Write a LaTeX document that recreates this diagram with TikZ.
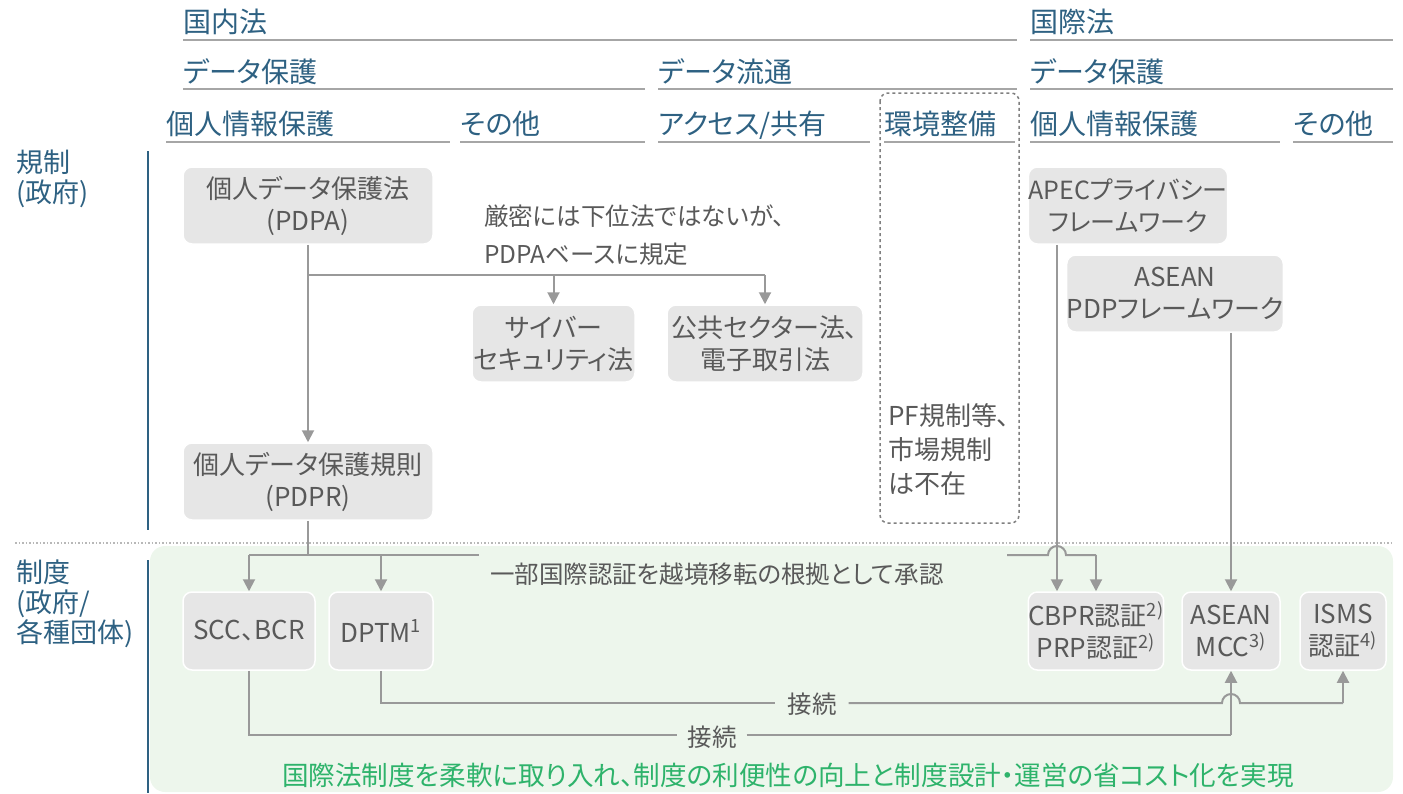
\documentclass[tikz,border=0pt]{standalone}
\usepackage{fontspec}
\setmainfont{Noto Sans CJK JP}[RawFeature=+palt]
\usetikzlibrary{arrows.meta}
\definecolor{hdr}{HTML}{2E6182}
\definecolor{ulgray}{HTML}{A6A6A6}
\definecolor{boxgray}{HTML}{E6E6E6}
\definecolor{txtgray}{HTML}{595959}
\definecolor{lgray}{HTML}{999999}
\definecolor{panel}{HTML}{EDF6EC}
\definecolor{gtext}{HTML}{2EB36B}
\definecolor{dgray}{HTML}{808080}
\tikzset{
  hdrtext/.style={text=hdr, font=\fontsize{28}{30}\selectfont, anchor=base west, inner sep=0pt},
  uline/.style={draw=ulgray, line width=2pt},
  boxnode/.style={fill=boxgray, draw=white, line width=1.5pt, rounded corners=9pt, text=txtgray, align=center, inner sep=0pt, font=\fontsize{26}{32}\selectfont, minimum height=77pt},
  conn/.style={draw=lgray, line width=2pt},
  arr/.style={conn, -{Triangle[width=12pt,length=12pt]}},
  lbl/.style={text=txtgray, font=\fontsize{24.5}{30}\selectfont, inner sep=0pt},
  sidelbl/.style={text=hdr, font=\fontsize{27}{30}\selectfont, align=left, anchor=north west, inner sep=0pt},
}
\begin{document}
\begin{tikzpicture}[x=1pt,y=-1pt]
\useasboundingbox (0,0) rectangle (1403,793);
% green panel
\fill[panel, rounded corners=15pt] (150,546) rectangle (1393,792);
% separator
\draw[draw=ulgray!80, line width=1.5pt, dotted] (15,543) -- (1393,543);
% side lines
\draw[draw=hdr, line width=2.5pt] (148,151) -- (148,530);
\draw[draw=hdr, line width=2.5pt] (148,560) -- (148,793);
\node[sidelbl] (kisei) at (16,150) {規制\\(政府)};
\node[sidelbl] (seido) at (16,560) {制度\\(政府/\\各種団体)};
% headers
\node[hdrtext] (kokunai) at (183,32) {国内法};
\draw[uline] (183,40) -- (1017,40);
\node[hdrtext] (kokusai) at (1030,32) {国際法};
\draw[uline] (1030,40) -- (1393,40);
\node[hdrtext] (dpa) at (183,82) {データ保護};
\draw[uline] (183,89) -- (645,89);
\node[hdrtext] (dr) at (658,82) {データ流通};
\draw[uline] (658,89) -- (1017,89);
\node[hdrtext] (dpb) at (1030,82) {データ保護};
\draw[uline] (1030,89) -- (1393,89);
\node[hdrtext] (kja) at (166,134) {個人情報保護};
\draw[uline] (166,142) -- (450,142);
\node[hdrtext] (sta) at (460,134) {その他};
\draw[uline] (460,142) -- (645,142);
\node[hdrtext] (acc) at (658,134) {アクセス/共有};
\draw[uline] (658,142) -- (870,142);
\node[hdrtext] (kan) at (884,134) {環境整備};
\draw[uline] (884,142) -- (1015,142);
\node[hdrtext] (kjb) at (1030,134) {個人情報保護};
\draw[uline] (1030,142) -- (1280,142);
\node[hdrtext] (stb) at (1293,134) {その他};
\draw[uline] (1293,142) -- (1393,142);
% dashed box
\draw[draw=dgray, line width=1.5pt, dashed, rounded corners=8pt] (880,93) rectangle (1019,523);
\node[lbl, font=\fontsize{26}{34}\selectfont, align=left, anchor=north west] (pf) at (888,403) {PF規制等、\\市場規制\\は不在};
% boxes
\node[boxnode, minimum width=250pt] (pdpa) at (308,205.5) {個人データ保護法\\(PDPA)};
\node[boxnode, minimum width=163pt] (cyber) at (553.5,343.5) {サイバー\\セキュリティ法};
\node[boxnode, minimum width=196pt] (pub) at (765,343.5) {公共セクター法、\\電子取引法};
\node[boxnode, minimum width=250pt] (pdpr) at (308,481.5) {個人データ保護規則\\(PDPR)};
\node[boxnode, minimum width=196pt, font=\fontsize{25}{32}\selectfont] (apec) at (1128,205.5) {APECプライバシー\\フレームワーク};
\node[boxnode, minimum width=210pt] (apdp) at (1175,293.5) {ASEAN\\PDPフレームワーク};
\node[boxnode, minimum width=132pt, minimum height=78pt] (scc) at (249,631) {SCC、BCR};
\node[boxnode, minimum width=104pt, minimum height=78pt] (dptm) at (381,631) {DPTM\textsuperscript{1}};
\node[boxnode, minimum width=132pt, minimum height=78pt] (cbpr) at (1096,631) {CBPR認証\textsuperscript{2)}\\PRP認証\textsuperscript{2)}};
\node[boxnode, minimum width=98pt, minimum height=78pt] (mcc) at (1231,631) {ASEAN\\MCC\textsuperscript{3)}};
\node[boxnode, minimum width=86pt, minimum height=78pt] (isms) at (1343,631) {ISMS\\認証\textsuperscript{4)}};
% note label
\node[lbl, align=left, anchor=north west, font=\fontsize{24.5}{38}\selectfont] (note) at (484,205) {厳密には下位法ではないが、\\PDPAベースに規定};
% PDPA connectors
\draw[arr] (pdpa.south) -- (pdpr.north);
\coordinate (b1) at (308,275);
\draw[conn] (b1) -- (pub.north |- b1);
\draw[arr] (cyber.north |- b1) -- (cyber.north);
\draw[arr] (pub.north |- b1) -- (pub.north);
% PDPR connectors
\coordinate (b2) at (308,555);
\coordinate (g1) at (479,555);
\coordinate (g2) at (1007,555);
\coordinate (apx) at (1057,555);
\draw[conn] (pdpr.south) -- (b2);
\draw[conn] (scc.north |- b2) -- (g1);
\draw[arr] (scc.north |- b2) -- (scc.north);
\draw[arr] (dptm.north |- b2) -- (dptm.north);
\node[lbl, anchor=west] (ninshou) at (490,574) {一部国際認証を越境移転の根拠として承認};
\draw[conn] (g2) -- ([xshift=-9pt]apx) arc[start angle=180, end angle=0, radius=9pt] -- (cbpr.north |- b2);
\draw[arr] (cbpr.north |- b2) -- (cbpr.north);
\draw[arr] (apec.south -| apx) -- (cbpr.north -| apx);
\draw[arr] (apdp.south -| mcc.north) -- (mcc.north);
% bottom connectors
\coordinate (c1) at (381,703);
\coordinate (c2) at (249,735);
\node[lbl, inner xsep=12pt] (set1) at (812,704) {接続};
\node[lbl, inner xsep=10pt] (set2) at (712,737) {接続};
\draw[conn] (dptm.south) -- (c1) -- (set1.west |- c1);
\draw[conn] (set1.east |- c1) -- ([xshift=-9pt]mcc.south |- c1) arc[start angle=180, end angle=0, radius=9pt] -- (isms.south |- c1);
\draw[arr] (isms.south |- c1) -- (isms.south);
\draw[conn] (scc.south) -- (c2) -- (set2.west |- c2);
\draw[conn] (set2.east |- c2) -- (mcc.south |- c2);
\draw[arr] (mcc.south |- c2) -- (mcc.south);
% green conclusion
\node[text=gtext, font=\fontsize{26.6}{30}\selectfont, inner sep=0pt] (concl) at (788,775) {国際法制度を柔軟に取り入れ、制度の利便性の向上と制度設計・運営の省コスト化を実現};
\end{tikzpicture}
\end{document}
